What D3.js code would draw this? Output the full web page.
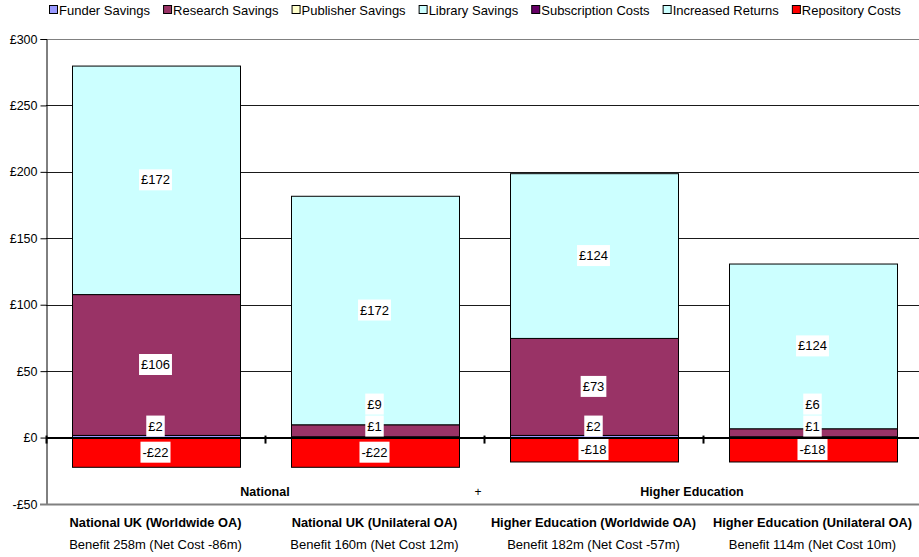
<!DOCTYPE html>
<html>
<head>
<meta charset="utf-8">
<script src="https://cdn.jsdelivr.net/npm/d3@7/dist/d3.min.js"></script>
<style>
  body { margin: 0; background: #fff; }
  text { font-family: Arial, "Liberation Sans", sans-serif; }
</style>
</head>
<body>
<svg width="919" height="557"></svg>
<script>
// data
var categories = ["National UK (Worldwide OA)", "National UK (Unilateral OA)",
                  "Higher Education (Worldwide OA)", "Higher Education (Unilateral OA)"];
var benefitLabels = ["Benefit 258m (Net Cost -86m)", "Benefit 160m (Net Cost 12m)",
                     "Benefit 182m (Net Cost -57m)", "Benefit 114m (Net Cost 10m)"];
var groups = ["National", "Higher Education"];
var seriesNames = ["Funder Savings", "Research Savings", "Publisher Savings", "Library Savings",
                   "Subscription Costs", "Increased Returns", "Repository Costs"];
var funderSavings = [2, 1, 2, 1];
var researchSavings = [106, 9, 73, 6];
var publisherSavings = [0, 0, 0, 0];
var librarySavings = [0, 0, 0, 0];
var subscriptionCosts = [0, 0, 0, 0];
var increasedReturns = [172, 172, 124, 124];
var repositoryCosts = [-22, -22, -18, -18];
var yTicks = [-50, 0, 50, 100, 150, 200, 250, 300];

var colors = ["#9999ff", "#993366", "#ffffcc", "#ccffff", "#660066", "#ccffff", "#ff0000"];
var allSeries = [funderSavings, researchSavings, publisherSavings, librarySavings,
                 subscriptionCosts, increasedReturns, repositoryCosts];

var svg = d3.select("svg"),
    width = +svg.attr("width"),
    height = +svg.attr("height");

var plotLeft = 46, plotTop = 39, plotBottom = 504, plotRight = 922;

var x = d3.scaleBand().domain(categories).range([plotLeft, plotRight])
    .paddingInner(0.233).paddingOuter(0.1165);
var y = d3.scaleLinear().domain([-50, 300]).range([plotBottom, plotTop]);

// gridlines
svg.append("g").selectAll("line")
    .data(yTicks.filter(d => d > -50 && d !== 0))
    .enter().append("line")
    .attr("x1", plotLeft).attr("x2", width)
    .attr("y1", d => Math.round(y(d)) + 0.5).attr("y2", d => Math.round(y(d)) + 0.5)
    .attr("stroke", d => d === 300 ? "#808080" : "#1a1a1a")
    .attr("stroke-width", 1);

// build stacks: positives upward from 0, negatives downward
var segs = [];
categories.forEach(function(c, i) {
  var pos = 0, neg = 0;
  allSeries.forEach(function(s, k) {
    var v = s[i];
    if (!v) return;
    if (v > 0) { segs.push({cat: c, i: i, k: k, v: v, y0: pos, y1: pos + v}); pos += v; }
    else { segs.push({cat: c, i: i, k: k, v: v, y0: neg + v, y1: neg}); neg += v; }
  });
});

svg.append("g").selectAll("rect")
    .data(segs).enter().append("rect")
    .attr("x", d => Math.round(x(d.cat)) + 0.5)
    .attr("width", Math.round(x.bandwidth()))
    .attr("y", d => y(d.y1) + 0.5)
    .attr("height", d => y(d.y0) - y(d.y1))
    .attr("fill", d => colors[d.k])
    .attr("stroke", "#000")
    .attr("stroke-width", 1);

// y axis
var yAxis = svg.append("g").attr("transform", "translate(" + (plotLeft + 0.5) + ",0)")
    .call(d3.axisLeft(y).tickValues(yTicks).tickSize(6).tickPadding(3)
      .tickFormat(d => (d < 0 ? "-" : "") + "£" + Math.abs(d)));
yAxis.select(".domain").attr("stroke", "#000");
yAxis.selectAll(".tick line").attr("stroke", "#000");
yAxis.selectAll("text").attr("font-size", 12.5).attr("fill", "#000")
    .attr("font-family", "Arial, 'Liberation Sans', sans-serif");

// bottom border line
svg.append("line")
    .attr("x1", plotLeft - 6).attr("x2", width)
    .attr("y1", plotBottom + 0.5).attr("y2", plotBottom + 0.5)
    .attr("stroke", "#808080").attr("stroke-width", 2);

// zero line with category ticks
svg.append("line")
    .attr("x1", plotLeft).attr("x2", width)
    .attr("y1", y(0) + 0.5).attr("y2", y(0) + 0.5)
    .attr("stroke", "#000").attr("stroke-width", 2);
var bounds = [plotLeft].concat(categories.slice(1).map(c => x(c) - x.step() * x.paddingInner() / 2));
svg.append("g").selectAll("line").data(bounds).enter().append("line")
    .attr("x1", d => Math.round(d) + 0.5).attr("x2", d => Math.round(d) + 0.5)
    .attr("y1", y(0) - 2).attr("y2", y(0) + 6)
    .attr("stroke", "#000").attr("stroke-width", 2);

// value labels with white boxes, nudged so they don't overlap
var boxH = 21;
var labels = [];
categories.forEach(function(c, i) {
  var mine = segs.filter(s => s.i === i);
  var negs = mine.filter(s => s.v < 0);
  var lowest = y(0);
  negs.forEach(function(s) {
    var cy = y((s.y0 + s.y1) / 2);
    labels.push({s: s, cy: cy});
    lowest = Math.min(lowest, cy - boxH / 2);
  });
  var limit = lowest;
  mine.filter(s => s.v > 0).forEach(function(s) {
    var cy = Math.min(y((s.y0 + s.y1) / 2), limit - 1 - boxH / 2);
    labels.push({s: s, cy: cy});
    limit = cy - boxH / 2;
  });
});

var lab = svg.append("g").selectAll("g").data(labels).enter().append("g")
    .attr("transform", d => "translate(" + (x(d.s.cat) + x.bandwidth() / 2) + "," + d.cy + ")");
lab.append("rect").attr("fill", "#fff");
lab.append("text")
    .attr("text-anchor", "middle").attr("dy", "0.35em")
    .attr("font-size", 13).attr("fill", "#000")
    .text(d => (d.s.v < 0 ? "-" : "") + "£" + Math.abs(d.s.v));
lab.each(function() {
  var g = d3.select(this);
  var w = g.select("text").node().getComputedTextLength();
  g.select("rect").attr("x", -w / 2 - 2).attr("width", w + 4)
    .attr("y", -boxH / 2).attr("height", boxH);
});

// group labels
var groupY = 496;
svg.append("text").attr("x", x(categories[1]) - x.step() * x.paddingInner() / 2).attr("y", groupY)
    .attr("text-anchor", "middle").attr("font-size", 12.5).attr("font-weight", "bold")
    .text(groups[0]);
svg.append("text").attr("x", x(categories[3]) - x.step() * x.paddingInner() / 2 - 11).attr("y", groupY)
    .attr("text-anchor", "middle").attr("font-size", 12.5).attr("font-weight", "bold")
    .text(groups[1]);
svg.append("text").attr("x", x(categories[2]) - x.step() * x.paddingInner() / 2 - 6).attr("y", groupY)
    .attr("text-anchor", "middle").attr("font-size", 12)
    .text("+");

// category labels
svg.append("g").selectAll("text").data(categories).enter().append("text")
    .attr("x", d => x(d) + x.bandwidth() / 2).attr("y", 527)
    .attr("text-anchor", "middle").attr("font-size", 12.8).attr("font-weight", "bold")
    .text(d => d);
svg.append("g").selectAll("text").data(benefitLabels).enter().append("text")
    .attr("x", (d, i) => x(categories[i]) + x.bandwidth() / 2).attr("y", 549)
    .attr("text-anchor", "middle").attr("font-size", 13)
    .text(d => d);

// legend
var legend = svg.append("g");
var lx = 49;
seriesNames.forEach(function(name, k) {
  var item = legend.append("g").attr("transform", "translate(" + lx + ",0)");
  item.append("rect").attr("x", 0.5).attr("y", 5.5).attr("width", 8).attr("height", 8)
      .attr("fill", colors[k]).attr("stroke", "#000");
  var t = item.append("text").attr("x", 10).attr("y", 14.5)
      .attr("font-size", 13).text(name);
  lx += 10 + t.node().getComputedTextLength() + 13;
});
</script>
</body>
</html>
